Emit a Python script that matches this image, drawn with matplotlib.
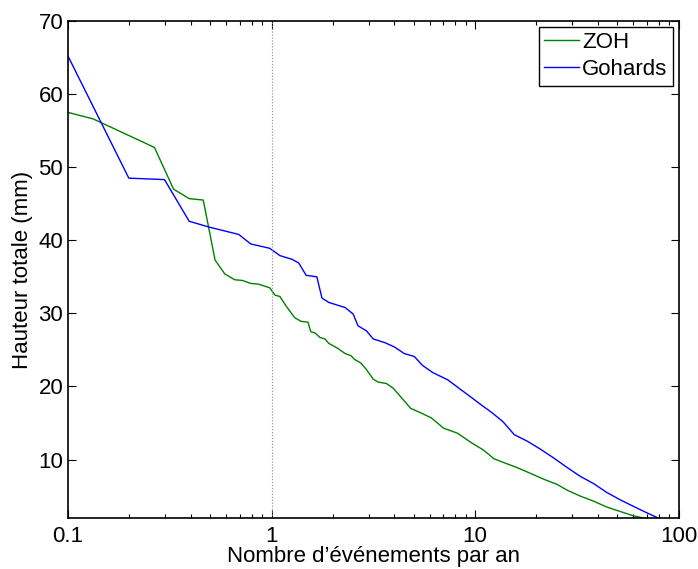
import numpy as np
import matplotlib
matplotlib.use('Agg')
import matplotlib.pyplot as plt
from matplotlib.ticker import FixedLocator, LogLocator, NullFormatter

# Values
zoh_freq = [0.1, 0.133, 0.266, 0.33, 0.394, 0.462, 0.528, 0.589, 0.659, 0.72,
            0.789, 0.862, 0.98, 1.04, 1.10, 1.18, 1.30, 1.40, 1.51, 1.56,
            1.64, 1.73, 1.83, 1.91, 2.12, 2.30, 2.46, 2.56, 2.75, 2.93,
            3.16, 3.34, 3.67, 3.95, 4.34, 4.83, 5.4, 6.1, 7.0, 8.2,
            9.6, 11.0, 12.4, 14.1, 16.1, 18.4, 21.8, 25.3, 28.4, 32.9,
            38.3, 44.4, 51.6, 60.0, 67.2, 80.0]
zoh_depth = [57.5, 56.6, 52.7, 47.0, 45.7, 45.5, 37.3, 35.4, 34.6, 34.5,
             34.1, 34.0, 33.5, 32.5, 32.3, 31.0, 29.4, 28.9, 28.8, 27.5,
             27.3, 26.7, 26.5, 25.9, 25.2, 24.5, 24.2, 23.7, 23.2, 22.3,
             21.0, 20.6, 20.4, 19.8, 18.5, 17.0, 16.4, 15.7, 14.3, 13.6,
             12.3, 11.3, 10.1, 9.5, 8.9, 8.2, 7.3, 6.6, 5.8, 5.0,
             4.3, 3.5, 2.9, 2.3, 2.0, 1.8]

goh_freq = [0.1, 0.199, 0.298, 0.394, 0.494, 0.69, 0.79, 0.98, 1.10, 1.26,
            1.36, 1.48, 1.67, 1.77, 1.91, 2.12, 2.30, 2.52, 2.66, 2.93,
            3.16, 3.60, 4.02, 4.49, 5.03, 5.51, 6.2, 7.35, 8.3, 9.7,
            10.7, 12.0, 13.7, 15.6, 18.1, 21.0, 24.4, 28.4, 32.9, 38.3,
            44.4, 51.6, 60.0, 70.0, 79.5, 90.0]
goh_depth = [65.2, 48.5, 48.3, 42.6, 41.8, 40.8, 39.5, 38.9, 37.9, 37.4,
             36.9, 35.2, 35.0, 32.1, 31.5, 31.1, 30.8, 29.9, 28.3, 27.6,
             26.5, 26.0, 25.4, 24.5, 24.1, 22.9, 21.9, 20.9, 19.8, 18.4,
             17.5, 16.5, 15.2, 13.4, 12.5, 11.4, 10.2, 8.9, 7.7, 6.7,
             5.5, 4.5, 3.6, 2.7, 2.0, 1.5]

x_ticks = [0.1, 1, 10, 100]
x_tick_labels = ['0.1', '1', '10', '100']
y_ticks = [10, 20, 30, 40, 50, 60, 70]

plt.rcParams['font.family'] = ['Liberation Sans', 'DejaVu Sans']
plt.rcParams['font.size'] = 16

fig = plt.figure(figsize=(6.98, 5.69), dpi=100)
ax = fig.add_axes([68 / 698, 51 / 569, 610.5 / 698, 497 / 569])

ax.plot(zoh_freq, zoh_depth, color=(0, 0.5, 0), lw=1.0, label='ZOH')
ax.plot(goh_freq, goh_depth, color=(0, 0, 1), lw=1.0, label='Gohards')
ax.axvline(1, color='0.55', ls=':', lw=0.8)

ax.set_xscale('log')
ax.set_xlim(0.1, 100)
ax.set_ylim(2, 70)
ax.xaxis.set_major_locator(FixedLocator(x_ticks))
ax.set_xticklabels(x_tick_labels)
ax.xaxis.set_minor_locator(LogLocator(base=10, subs=np.arange(2, 10)))
ax.xaxis.set_minor_formatter(NullFormatter())
ax.set_yticks(y_ticks)

ax.tick_params(which='both', direction='in', top=True, right=True, width=0.8)
ax.tick_params(which='major', length=6)
ax.tick_params(which='minor', length=3)
ax.tick_params(axis='x', which='major', pad=6)
ax.tick_params(axis='y', which='major', pad=3.5)
for s in ax.spines.values():
    s.set_linewidth(1.2)

ax.set_xlabel('Nombre d\u2019\u00e9v\u00e9nements par an', labelpad=-1)
ax.set_ylabel('Hauteur totale (mm)', labelpad=4)

leg = ax.legend(loc='upper right', fancybox=False, edgecolor='k', framealpha=1,
                borderaxespad=0.25, handlelength=1.55, handletextpad=0.15,
                borderpad=0.25, labelspacing=0.27)
leg.get_frame().set_linewidth(1.0)

fig.savefig('out.png', dpi=100)
